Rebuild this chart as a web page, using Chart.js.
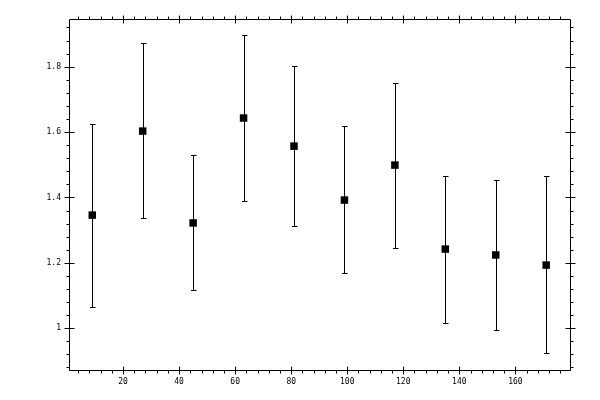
<!DOCTYPE html>
<html>
<head>
<meta charset="utf-8">
<script src="https://cdn.jsdelivr.net/npm/chart.js@4"></script>
<style>
html,body{margin:0;padding:0;background:#fff;}
canvas{display:block;}
</style>
</head>
<body>
<canvas id="c" width="600" height="400"></canvas>
<script>
// Data
const xValues = [9, 27, 45, 63, 81, 99, 117, 135, 153, 171];
const yValues = [1.346, 1.603, 1.322, 1.643, 1.557, 1.392, 1.499, 1.242, 1.224, 1.193];
const yHigh   = [1.625, 1.872, 1.530, 1.897, 1.802, 1.619, 1.751, 1.466, 1.453, 1.466];
const yLow    = [1.065, 1.337, 1.116, 1.389, 1.312, 1.168, 1.245, 1.015, 0.994, 0.924];
const xTickValues = [20, 40, 60, 80, 100, 120, 140, 160];
const xTickLabels = ['20', '40', '60', '80', '100', '120', '140', '160'];
const yTickValues = [1, 1.2, 1.4, 1.6, 1.8];
const yTickLabels = ['1', '1.2', '1.4', '1.6', '1.8'];
const xMinorStep = 4;
const yMinorStep = 0.04;

const framePlugin = {
  id: 'frame',
  beforeDatasetsDraw(chart) {
    const ctx = chart.ctx;
    const xs = chart.scales.x, ys = chart.scales.y;
    ctx.save();
    ctx.strokeStyle = '#000';
    ctx.lineWidth = 1;
    ctx.beginPath();
    for (let i = 0; i < xValues.length; i++) {
      const px = Math.round(xs.getPixelForValue(xValues[i])) + 0.5;
      const pt = Math.round(ys.getPixelForValue(yHigh[i])) + 0.5;
      const pb = Math.round(ys.getPixelForValue(yLow[i])) + 0.5;
      ctx.moveTo(px, pt); ctx.lineTo(px, pb);
      ctx.moveTo(px - 2.5, pt); ctx.lineTo(px + 3, pt);
      ctx.moveTo(px - 2.5, pb); ctx.lineTo(px + 3, pb);
    }
    ctx.stroke();
    ctx.restore();
  },
  afterDraw(chart) {
    const ctx = chart.ctx;
    const a = chart.chartArea;
    const xs = chart.scales.x, ys = chart.scales.y;
    const L = Math.round(a.left) + 0.5, R = Math.round(a.right) + 0.5;
    const T = Math.round(a.top) + 0.5, B = Math.round(a.bottom) + 0.5;
    ctx.save();
    ctx.strokeStyle = '#000';
    ctx.lineWidth = 1;
    ctx.beginPath();
    ctx.rect(L, T, R - L, B - T);
    const xmin = xs.min, xmax = xs.max;
    for (let v = Math.ceil(xmin / xMinorStep) * xMinorStep; v <= xmax; v += xMinorStep) {
      const px = Math.round(xs.getPixelForValue(v)) + 0.5;
      ctx.moveTo(px, B); ctx.lineTo(px, B + 3);
      ctx.moveTo(px, T); ctx.lineTo(px, T - 3);
    }
    xTickValues.forEach(v => {
      const px = Math.round(xs.getPixelForValue(v)) + 0.5;
      ctx.moveTo(px, B - 4); ctx.lineTo(px, B + 4);
      ctx.moveTo(px, T + 4); ctx.lineTo(px, T - 4);
    });
    const ymin = ys.min, ymax = ys.max;
    for (let k = Math.ceil(ymin / yMinorStep - 1e-6); k * yMinorStep <= ymax; k++) {
      const py = Math.round(ys.getPixelForValue(k * yMinorStep)) + 0.5;
      ctx.moveTo(L, py); ctx.lineTo(L - 3, py);
      ctx.moveTo(R, py); ctx.lineTo(R + 3, py);
    }
    yTickValues.forEach(v => {
      const py = Math.round(ys.getPixelForValue(v)) + 0.5;
      ctx.moveTo(L - 5, py); ctx.lineTo(L + 5, py);
      ctx.moveTo(R + 5, py); ctx.lineTo(R - 5, py);
    });
    ctx.stroke();
    ctx.restore();
  }
};

new Chart(document.getElementById('c'), {
  type: 'scatter',
  data: {
    datasets: [{
      data: xValues.map((x, i) => ({x: x, y: yValues[i]})),
      pointStyle: 'rect',
      pointRadius: 5.3,
      pointHoverRadius: 5.3,
      borderWidth: 0,
      backgroundColor: '#000',
      borderColor: '#000'
    }]
  },
  options: {
    responsive: false,
    animation: false,
    devicePixelRatio: 1,
    layout: {padding: {top: 19, right: 30, left: 0, bottom: 0}},
    plugins: {legend: {display: false}, tooltip: {enabled: false}},
    scales: {
      x: {
        type: 'linear',
        min: 0.7,
        max: 179.5,
        grid: {display: false, drawTicks: false},
        border: {display: false},
        afterFit(s) { s.height = 30; },
        afterBuildTicks(s) { s.ticks = xTickValues.map(v => ({value: v})); },
        ticks: {
          padding: 7,
          color: '#000',
          font: {family: 'DejaVu Sans Mono', size: 8},
          maxRotation: 0,
          autoSkip: false,
          callback: (v) => xTickLabels[xTickValues.indexOf(v)]
        }
      },
      y: {
        type: 'linear',
        min: 0.872,
        max: 1.946,
        grid: {display: false, drawTicks: false},
        border: {display: false},
        afterFit(s) { s.width = 69; },
        afterBuildTicks(s) { s.ticks = yTickValues.map(v => ({value: v})); },
        ticks: {
          padding: 8,
          color: '#000',
          font: {family: 'DejaVu Sans Mono', size: 8},
          autoSkip: false,
          callback: (v) => yTickLabels[yTickValues.indexOf(v)]
        }
      }
    }
  },
  plugins: [framePlugin]
});
</script>
</body>
</html>
